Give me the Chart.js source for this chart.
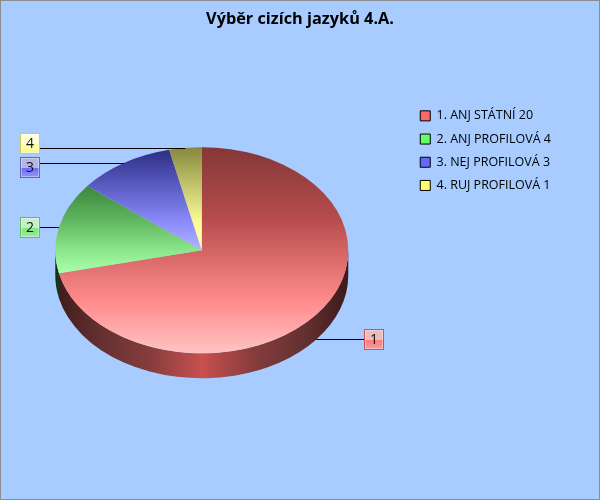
<!DOCTYPE html>
<html>
<head>
<meta charset="utf-8">
<title>Výběr cizích jazyků</title>
<script src="https://cdn.jsdelivr.net/npm/chart.js@4"></script>
<style>
  body { margin: 0; background: #a8ccff; }
  canvas { display: block; }
</style>
</head>
<body>
<canvas id="chart" width="600" height="500"></canvas>
<script>
const chartTitle = 'Výběr cizích jazyků 4.A.';
const categories = ['ANJ STÁTNÍ', 'ANJ PROFILOVÁ', 'NEJ PROFILOVÁ', 'RUJ PROFILOVÁ'];
const values = [20, 4, 3, 1];
const calloutLabels = ['1', '2', '3', '4'];

// colours per slice: legend swatch, top gradient (dark -> mid -> pale), wall, callout box
const legendColors = ['#ff6666', '#66ff66', '#6666ff', '#ffff66'];
const topDark = ['#843737', '#3c863c', '#2e2e85', '#87873f'];
const topShade = ['#b84c4c', '#5cb05c', '#5a5ac0', '#c0c06a'];
const topMid = ['#ff8c8c', '#8ce88c', '#8f8fff', '#ffff99'];
const topPale = ['#ffc4c4', '#aaffaa', '#b4b4ff', '#ffffb0'];
const wallEdge = ['#3e1a1a', '#123012', '#14144a', '#45451e'];
const wallNear = ['#643030', '#264f26', '#2a2a70', '#6a6a30'];
const wallMid = ['#853c3c', '#357035', '#3a3a8a', '#8a8a3c'];
const wallCentre = ['#c85050', '#48a848', '#4848a8', '#a8a848'];
const boxBorder = ['#cc5555', '#66bb66', '#6666aa', '#cccc66'];
const boxLight = ['#ecbcbc', '#c4f0c4', '#b4b4e6', '#ffffd8'];
const boxDeep = ['#ff7a7a', '#80e880', '#6a6aff', '#ffffa0'];
const boxEnd = ['#f0a0a0', '#a0e8a0', '#9a9aee', '#f4f4a0'];

const pieRadius = 146.5;
const squash = 103 / 146.5;
const wallDepth = 25;
const calloutColumns = { left: 20, right: 364 };
const calloutNudge = [0, 0, 4, -5];   // pushes boxes 3 and 4 apart
const legendDrop = 98.9;
const pieShift = -3;

// slice y range in unsquashed coordinates, for the per-slice gradient
function sliceGradient(context) {
  const chart = context.chart;
  const i = context.dataIndex;
  const area = chart.chartArea;
  if (!area) return legendColors[i];
  const total = values.reduce((a, b) => a + b, 0);
  let before = 0;
  for (let k = 0; k < i; k++) before += values[k];
  const a0 = -Math.PI / 2 + before / total * Math.PI * 2;
  const a1 = a0 + values[i] / total * Math.PI * 2;
  let minS = Math.min(Math.sin(a0), Math.sin(a1), 0);
  let maxS = Math.max(Math.sin(a0), Math.sin(a1), 0);
  for (const a of [-Math.PI / 2, Math.PI / 2, Math.PI * 1.5]) {
    if (a >= a0 && a <= a1) {
      minS = Math.min(minS, Math.sin(a));
      maxS = Math.max(maxS, Math.sin(a));
    }
  }
  const cy = (area.top + area.bottom) / 2;
  const g = chart.ctx.createLinearGradient(0, cy + minS * pieRadius, 0, cy + maxS * pieRadius);
  g.addColorStop(0, topDark[i]);
  g.addColorStop(0.35, topShade[i]);
  g.addColorStop(0.75, topMid[i]);
  g.addColorStop(1, topPale[i]);
  return g;
}

const piePerspective = {
  id: 'piePerspective',
  afterLayout(chart) {
    // title stays centred on the page, legend sits lower than the library would put it
    chart.titleBlock.left = 0;
    chart.titleBlock.right = chart.width;
    chart.legend.top += legendDrop;
    chart.legend.bottom += legendDrop;
    chart.chartArea.left += pieShift;
    chart.chartArea.right += pieShift;
  },
  beforeDraw(chart) {
    const c = chart.ctx;
    c.save();
    c.strokeStyle = '#8c8c8c';
    c.lineWidth = 1;
    c.strokeRect(0.5, 0.5, chart.width - 1, chart.height - 1);
    c.restore();
  },
  beforeDatasetsDraw(chart) {
    const c = chart.ctx;
    const arcs = chart.getDatasetMeta(0).data;
    const cx = arcs[0].x, cy = arcs[0].y;
    const ry = pieRadius * squash;
    // side wall, only the front half of the ellipse shows
    arcs.forEach((arc, i) => {
      const a0 = Math.max(arc.startAngle, 0);
      const a1 = Math.min(arc.endAngle, Math.PI);
      if (a1 <= a0) return;
      const g = c.createLinearGradient(cx - pieRadius, 0, cx + pieRadius, 0);
      [[0, wallEdge], [0.15, wallNear], [0.32, wallMid], [0.5, wallCentre],
        [0.68, wallMid], [0.85, wallNear], [1, wallEdge]].forEach(s => g.addColorStop(s[0], s[1][i]));
      c.save();
      c.fillStyle = g;
      c.beginPath();
      c.ellipse(cx, cy, pieRadius, ry, 0, a0, a1);
      c.ellipse(cx, cy + wallDepth, pieRadius, ry, 0, a1, a0, true);
      c.closePath();
      c.fill();
      c.restore();
    });
    // squash the library's round pie into the ellipse
    c.save();
    c.translate(cx, cy);
    c.scale(1, squash);
    c.translate(-cx, -cy);
  },
  afterDatasetsDraw(chart) {
    const c = chart.ctx;
    c.restore();
    const arcs = chart.getDatasetMeta(0).data;
    const ry = pieRadius * squash;
    arcs.forEach((arc, i) => {
      const mid = (arc.startAngle + arc.endAngle) / 2;
      const px = arc.x + Math.cos(mid) * pieRadius;
      let py = arc.y + Math.sin(mid) * ry;
      if (Math.sin(mid) > 0) py += wallDepth;
      py = Math.round(py) + 0.5;
      const onRight = Math.cos(mid) > 0;
      const boxX = onRight ? calloutColumns.right : calloutColumns.left;
      const boxW = 20, boxH = 21;
      const boxY = Math.round(py - boxH / 2 + calloutNudge[i]);

      c.save();
      c.strokeStyle = '#000';
      c.lineWidth = 1;
      c.beginPath();
      c.moveTo(px, py);
      c.lineTo(onRight ? boxX : boxX + boxW, py);
      c.stroke();

      const g = c.createLinearGradient(0, boxY, 0, boxY + boxH);
      g.addColorStop(0, boxLight[i]);
      g.addColorStop(0.5, boxLight[i]);
      g.addColorStop(0.52, boxDeep[i]);
      g.addColorStop(1, boxEnd[i]);
      c.fillStyle = g;
      c.fillRect(boxX, boxY, boxW, boxH);
      c.strokeStyle = boxBorder[i];
      c.strokeRect(boxX + 0.5, boxY + 0.5, boxW - 1, boxH - 1);
      // inner bevel
      c.strokeStyle = 'rgba(255,255,255,0.35)';
      c.strokeRect(boxX + 1.5, boxY + 1.5, boxW - 3, boxH - 3);

      c.fillStyle = '#111';
      c.font = '14px "Open Sans"';
      c.textAlign = 'center';
      c.textBaseline = 'middle';
      c.fillText(calloutLabels[i], boxX + boxW / 2, boxY + boxH / 2 + 0.5);
      c.restore();
    });
  }
};

new Chart(document.getElementById('chart').getContext('2d'), {
  type: 'pie',
  data: {
    labels: categories,
    datasets: [{
      data: values,
      backgroundColor: sliceGradient,
      borderWidth: 0,
      clip: false
    }]
  },
  options: {
    responsive: false,
    animation: false,
    radius: pieRadius,
    layout: { padding: { left: 0, right: 39, top: 0, bottom: 97 } },
    plugins: {
      tooltip: { enabled: false },
      title: {
        display: true,
        text: chartTitle,
        color: '#000',
        font: { family: '"Open Sans"', size: 16.3, weight: 'bold' },
        padding: { top: 10, bottom: 68 }
      },
      legend: {
        position: 'right',
        align: 'start',
        labels: {
          boxWidth: 10,
          boxHeight: 10,
          padding: 10.7,
          color: '#222',
          font: { family: '"Open Sans"', size: 12.5 },
          generateLabels() {
            return categories.map((name, i) => ({
              text: (i + 1) + '. ' + name + ' ' + values[i],
              fillStyle: legendColors[i],
              strokeStyle: '#000',
              lineWidth: 1,
              index: i
            }));
          }
        }
      }
    }
  },
  plugins: [piePerspective]
});
</script>
</body>
</html>
